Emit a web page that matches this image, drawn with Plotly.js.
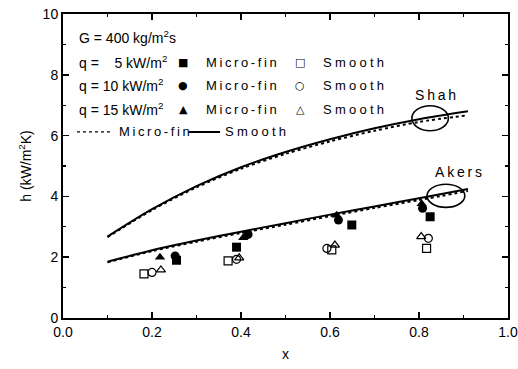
<!DOCTYPE html>
<html><head><meta charset="utf-8">
<script src="https://cdn.plot.ly/plotly-3.0.1.min.js"></script>
<style>body{margin:0;background:#fff}#c{width:518px;height:369px}</style>
</head><body><div id="c"></div>
<script>
// ---- data ----
const q5MicroX = [0.255, 0.39, 0.649, 0.825];
const q5MicroY = [1.90, 2.33, 3.06, 3.33];
const q10MicroX = [0.252, 0.416, 0.619, 0.808];
const q10MicroY = [2.04, 2.75, 3.22, 3.61];
const q15MicroX = [0.218, 0.405, 0.615, 0.806];
const q15MicroY = [2.00, 2.64, 3.38, 3.76];
const q5SmoothX = [0.182, 0.371, 0.604, 0.817];
const q5SmoothY = [1.45, 1.88, 2.24, 2.29];
const q10SmoothX = [0.200, 0.390, 0.593, 0.821];
const q10SmoothY = [1.50, 1.93, 2.29, 2.62];
const q15SmoothX = [0.220, 0.396, 0.611, 0.805];
const q15SmoothY = [1.58, 1.98, 2.40, 2.68];

const shahX = [0.1, 0.2, 0.3, 0.4, 0.5, 0.6, 0.7, 0.8, 0.91];
const shahSmoothY = [2.68, 3.58, 4.34, 4.96, 5.46, 5.88, 6.24, 6.54, 6.80];
const shahMicroY  = [2.66, 3.55, 4.30, 4.91, 5.40, 5.81, 6.16, 6.45, 6.67];
const akersX = [0.1, 0.2, 0.3, 0.4, 0.5, 0.6, 0.7, 0.8, 0.91];
const akersSmoothY = [1.85, 2.23, 2.55, 2.84, 3.12, 3.40, 3.67, 3.94, 4.24];
const akersMicroY  = [1.83, 2.20, 2.51, 2.80, 3.07, 3.35, 3.62, 3.88, 4.18];

const xTickVals = [0, 0.2, 0.4, 0.6, 0.8, 1.0];
const xTickText = ['0.0', '0.2', '0.4', '0.6', '0.8', '1.0'];
const yTickVals = [0, 2, 4, 6, 8, 10];
const yTickText = ['0', '2', '4', '6', '8', '10'];

// ---- traces ----
const mk = (x, y, sym, open) => ({
  type: 'scatter', mode: 'markers', x, y, showlegend: false,
  marker: {symbol: sym, size: open ? 8 : 9, color: '#000',
           line: {color: '#000', width: open ? 1.2 : 0}}
});
const ln = (x, y, dash, w) => ({
  type: 'scatter', mode: 'lines', x, y, showlegend: false,
  line: {color: '#000', width: w, dash: dash, shape: 'spline', smoothing: 0.8}
});
const data = [
  ln(shahX, shahMicroY, 'dot', 2), ln(shahX, shahSmoothY, 'solid', 2),
  ln(akersX, akersMicroY, 'dot', 2), ln(akersX, akersSmoothY, 'solid', 2),
  mk(q5SmoothX, q5SmoothY, 'square-open', true),
  mk(q10SmoothX, q10SmoothY, 'circle-open', true),
  mk(q15SmoothX, q15SmoothY, 'triangle-up-open', true),
  mk(q5MicroX, q5MicroY, 'square', false),
  mk(q10MicroX, q10MicroY, 'circle', false),
  mk(q15MicroX, q15MicroY, 'triangle-up', false)
];

const F = 'Liberation Sans, Arial, sans-serif';
const G = 'DejaVu Sans, sans-serif';
const ts = '\u2009';
const spaced = (s, sp) => s.split('').join(sp);
const MF = spaced('Micro-fin', ts);
const SM = spaced('Smooth', '\u2005');

const ann = (x, y, text, anchor, size, fam) => ({
  xref: 'paper', yref: 'paper', x, y, text, showarrow: false,
  xanchor: anchor || 'left', yanchor: 'middle',
  font: {family: fam || F, size: size || 13, color: '#000'}
});
const rows = [0.842, 0.766, 0.6875];
const qLabels = ['q =\u2007\u20075 kW/m<sup>2</sup>', 'q = 10 kW/m<sup>2</sup>', 'q = 15 kW/m<sup>2</sup>'];
const filled = ['\u25A0', '\u25CF', '\u25B2'];
const openG = ['\u25A1', '\u25CB', '\u25B3'];
const annotations = [ann(0.0315, 0.924, 'G = 400 kg/m<sup>2</sup>s', 'left', 14)];
rows.forEach((r, i) => {
  annotations.push(ann(0.0315, r, qLabels[i], 'left', 14));
  annotations.push(ann(0.27, r, filled[i], 'center', 11, G));
  annotations.push(ann(0.317, r, MF));
  annotations.push(ann(0.533, r, openG[i], 'center', 11, G));
  annotations.push(ann(0.58, r, SM));
});
annotations.push(ann(0.121, 0.612, MF));
annotations.push(ann(0.36, 0.612, SM));
annotations.push({xref: 'x', yref: 'y', x: 0.838, y: 7.34, text: spaced('Shah', '\u2009'), showarrow: false,
  font: {family: F, size: 14, color: '#000'}});
annotations.push({xref: 'x', yref: 'y', x: 0.888, y: 4.81, text: spaced('Akers', '\u2009'), showarrow: false,
  font: {family: F, size: 14, color: '#000'}});

const shapes = [
  {type: 'line', xref: 'paper', yref: 'paper', x0: 0.0315, x1: 0.106, y0: 0.612, y1: 0.612,
   line: {color: '#000', width: 1.2, dash: 'dot'}},
  {type: 'line', xref: 'paper', yref: 'paper', x0: 0.283, x1: 0.353, y0: 0.612, y1: 0.612,
   line: {color: '#000', width: 2}},
  {type: 'circle', xref: 'x', yref: 'y', x0: 0.784, x1: 0.866, y0: 6.16, y1: 6.98,
   line: {color: '#000', width: 1.6}},
  {type: 'circle', xref: 'x', yref: 'y', x0: 0.818, x1: 0.903, y0: 3.64, y1: 4.40,
   line: {color: '#000', width: 1.6}}
];

const axBase = {
  showline: true, linecolor: '#000', linewidth: 2, mirror: 'ticks',
  ticks: 'inside', ticklen: 6, tickwidth: 1.5, tickcolor: '#000',
  showgrid: false, zeroline: false, fixedrange: true,
  tickfont: {family: F, size: 14, color: '#000'}
};
const layout = {
  width: 518, height: 369, paper_bgcolor: '#fff', plot_bgcolor: '#fff',
  margin: {l: 63, r: 10, t: 14, b: 51},
  xaxis: Object.assign({}, axBase, {range: [0, 1], tickvals: xTickVals, ticktext: xTickText,
    minor: {dtick: 0.1, ticks: 'inside', ticklen: 3, tickwidth: 1.2, tickcolor: '#000'},
    title: {text: 'x', font: {family: F, size: 14, color: '#000'}, standoff: 10}}),
  yaxis: Object.assign({}, axBase, {range: [0, 10], tickvals: yTickVals, ticktext: yTickText,
    minor: {dtick: 1, ticks: 'inside', ticklen: 3, tickwidth: 1.2, tickcolor: '#000'},
    title: {text: 'h (kW/m<sup>2</sup>K)', font: {family: F, size: 14, color: '#000'}, standoff: 8}}),
  annotations, shapes, showlegend: false
};
Plotly.newPlot('c', data, layout, {displayModeBar: false, staticPlot: true});
</script></body></html>
